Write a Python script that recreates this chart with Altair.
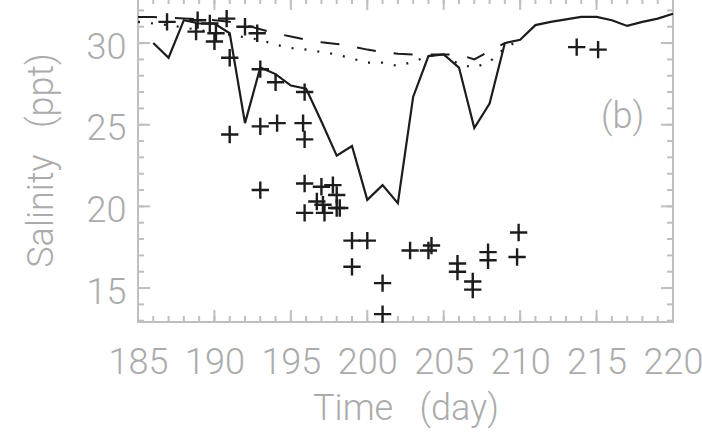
import altair as alt
import pandas as pd

# ---------------- data ----------------
solid_day = list(range(186, 221))
solid_sal = [30.0, 29.1, 31.4, 31.2, 31.2, 30.6, 25.1, 28.5, 28.1, 27.4,
             27.2, 25.2, 23.1, 23.7, 20.4, 21.3, 20.2, 26.7, 29.2, 29.3,
             28.5, 24.8, 26.3, 30.0, 30.2, 31.1, 31.3, 31.45, 31.6, 31.6,
             31.4, 31.05, 31.3, 31.5, 31.8]

dash_day = list(range(185, 210))
dash_sal = [31.6, 31.6, 31.55, 31.5, 31.45, 31.4, 31.3, 31.1, 30.85, 30.6,
            30.4, 30.2, 30.05, 29.95, 29.8, 29.6, 29.45, 29.35, 29.3, 29.3,
            29.3, 29.3, 29.0, 29.5, 30.0]

dot_day = list(range(185, 211))
dot_sal = [31.3, 31.2, 31.1, 30.95, 30.8, 30.65, 30.5, 30.35, 30.2, 29.9,
           29.7, 29.6, 29.45, 29.3, 29.05, 28.8, 28.8, 28.6, 28.85, 29.2,
           29.3, 28.7, 28.5, 28.85, 29.7, 30.2]

obs_day = [186.9, 188.9, 188.8, 189.7, 190.1, 190.8, 190.0, 192.0, 192.8, 191.0,
           193.0, 194.0, 195.9, 193.0, 194.1, 191.0, 195.8, 195.9, 193.0,
           195.9, 197.0, 197.75, 198.0, 196.7, 197.1, 198.0, 195.9, 197.2, 198.2,
           199.0, 200.0, 199.0, 201.0, 201.0, 202.8, 204.0, 204.2, 205.9, 205.9,
           206.9, 206.9, 207.9, 207.9, 209.9, 209.8, 213.7, 215.1]
obs_sal = [31.3, 31.4, 30.7, 31.2, 30.6, 31.5, 30.1, 31.0, 30.6, 29.1,
           28.4, 27.6, 27.0, 24.9, 25.1, 24.4, 25.1, 24.1, 21.0,
           21.4, 21.2, 21.3, 20.7, 20.3, 20.1, 19.9, 19.6, 19.6, 19.9,
           17.9, 17.9, 16.3, 15.3, 13.4, 17.3, 17.3, 17.6, 16.5, 16.0,
           15.4, 14.9, 17.2, 16.7, 18.4, 16.9, 29.75, 29.6]

x_major = list(range(185, 221, 5))
x_minor = list(range(185, 221))
y_major = [15, 20, 25, 30]
y_minor = list(range(13, 33))

x_title = "Time\u00a0\u00a0\u00a0(day)"
y_title = "Salinity\u00a0\u00a0\u00a0(ppt)"

# ---------------- styling ----------------
W, H = 535, 324
FONT = "Roboto"
TXT = "#ababab"
FRAME = "#bfbfbf"
INK = "#1c1c1c"

xs = alt.Scale(domain=[185, 220], nice=False, zero=False)
ys = alt.Scale(domain=[12.92, 32.76], nice=False, zero=False)

x_axis = alt.Axis(values=x_major, format="d", domain=False, ticks=False, tickSize=0,
                  grid=False, labelFont=FONT, labelFontSize=36, labelFontWeight=300,
                  labelColor=TXT, labelPadding=23, labelFlush=False, labelOverlap=False,
                  title=x_title, titleFont=FONT, titleFontSize=36, titleFontWeight=300,
                  titleColor=TXT, titleX=W / 2, titleY=97, titleBaseline="alphabetic",
                  titleAlign="center")
y_axis = alt.Axis(values=y_major, format="d", domain=False, ticks=False, tickSize=0,
                  grid=False, labelFont=FONT, labelFontSize=36, labelFontWeight=300,
                  labelColor=TXT, labelPadding=12, labelOffset=4, labelFlush=False,
                  labelOverlap=False,
                  title=y_title, titleFont=FONT, titleFontSize=36,
                  titleFontWeight=300, titleColor=TXT, titleAngle=270, titleX=-85.5,
                  titleY=162, titleBaseline="alphabetic", titleAlign="center")


def X(field):
    return alt.X(field, scale=xs, axis=x_axis, title=x_title)


def Y(field):
    return alt.Y(field, scale=ys, axis=y_axis, title=y_title)


solid_df = pd.DataFrame({"day": solid_day, "sal": solid_sal})
dash_df = pd.DataFrame({"day": dash_day, "sal": dash_sal})
dot_df = pd.DataFrame({"day": dot_day, "sal": dot_sal})
obs_df = pd.DataFrame({"day": obs_day, "sal": obs_sal})

solid = alt.Chart(solid_df).mark_line(color=INK, strokeWidth=2.2).encode(
    x=X("day:Q"), y=Y("sal:Q"))
dashed = alt.Chart(dash_df).mark_line(color=INK, strokeWidth=2, strokeDash=[19, 18]).encode(
    x=X("day:Q"), y=Y("sal:Q"))
dotted = alt.Chart(dot_df).mark_line(color=INK, strokeWidth=2.2, strokeDash=[2, 11]).encode(
    x=X("day:Q"), y=Y("sal:Q"))
plus = alt.Chart(obs_df).mark_point(
    shape="M-1,0L1,0M0,-1L0,1", size=300, filled=False, stroke=INK,
    strokeWidth=2.4, opacity=1,
).encode(x=X("day:Q"), y=Y("sal:Q"))


def tick_layer(vals, length, side):
    df = pd.DataFrame({"t": vals})
    if side == "bottom":
        enc = dict(x=X("t:Q"), y=alt.value(H), y2=alt.value(H - length))
    elif side == "top":
        enc = dict(x=X("t:Q"), y=alt.value(0), y2=alt.value(length))
    elif side == "left":
        enc = dict(y=Y("t:Q"), x=alt.value(0), x2=alt.value(length))
    else:
        enc = dict(y=Y("t:Q"), x=alt.value(W), x2=alt.value(W - length))
    return alt.Chart(df).mark_rule(color=FRAME, strokeWidth=2).encode(**enc)


ticks = [
    tick_layer(x_minor, 6, "bottom"), tick_layer(x_major, 12, "bottom"),
    tick_layer(x_minor, 6, "top"), tick_layer(x_major, 12, "top"),
    tick_layer(y_minor, 6, "left"), tick_layer(y_major, 12, "left"),
    tick_layer(y_minor, 6, "right"), tick_layer(y_major, 12, "right"),
]

label = alt.Chart(pd.DataFrame({"a": [0]})).mark_text(
    text="(b)", font=FONT, fontSize=36, fontWeight=300, color=TXT,
    align="center", baseline="middle",
).encode(x=alt.datum(216.7), y=alt.datum(25.5))

chart = alt.layer(solid, *ticks, dashed, dotted, plus, label).properties(
    width=W, height=H,
    padding={"left": 138, "top": -2, "right": 29, "bottom": 111},
    autosize=alt.AutoSizeParams(type="none"),
    background="white",
).configure_view(stroke=FRAME, strokeWidth=2)

chart.save("out.html", embed_options={"renderer": "svg", "actions": False})
